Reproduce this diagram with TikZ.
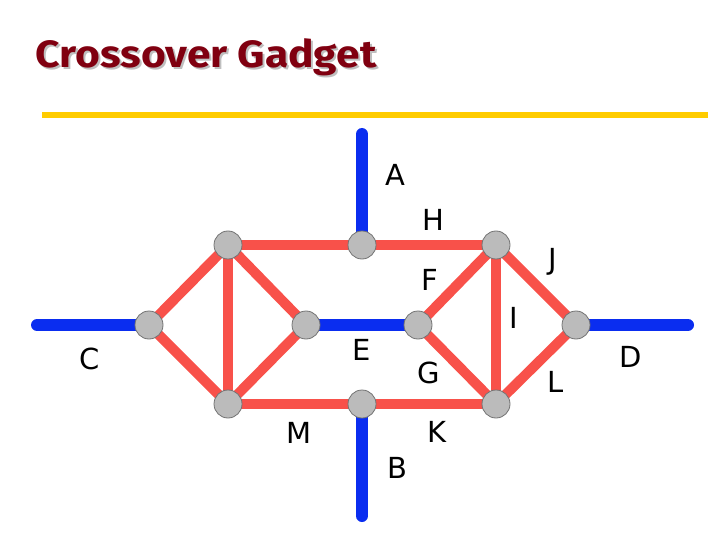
\documentclass[tikz,border=0pt]{standalone}
\usepackage{fontspec}
\setmainfont{DejaVu Sans}
\newfontfamily\titlefont{Fira Sans}
\usetikzlibrary{calc}
\definecolor{gadgetred}{HTML}{F8514A}
\definecolor{gadgetblue}{HTML}{0A2DF0}
\definecolor{vertexgray}{HTML}{BBBBBB}
\definecolor{titlered}{HTML}{800010}
\definecolor{rulegold}{HTML}{FFCC00}
\pgfdeclarelayer{background}
\pgfsetlayers{background,main}
\tikzset{%
  vertex/.style   = {circle, draw=black!55, line width=0.8pt,%
                     fill=vertexgray, inner sep=0pt, minimum size=28pt},%
  redge/.style    = {draw=gadgetred, line width=10pt},%
  bedge/.style    = {draw=gadgetblue, line width=12pt, line cap=round},%
  lbl/.style      = {font=\fontsize{29}{29}\selectfont, inner sep=0pt},%
  headline/.style = {font=\titlefont\bfseries\fontsize{38}{38}\selectfont,%
                     xscale=1.12, transform shape, inner sep=0pt}%
}
\begin{document}
\begin{tikzpicture}[x=1pt,y=-1pt]
	\useasboundingbox (0,0) rectangle (720,540);
	% title and rule
	\node (shadow) at (208,59) [headline, text=black!25] {Crossover Gadget};
	\node (title) at (206,57) [headline, text=titlered] {Crossover Gadget};
	\coordinate (ruleL) at (42,115);
	\coordinate (ruleR) at (708,115);
	\draw [rulegold, line width=6pt] (ruleL) -- (ruleR);
	% vertices
	\node [vertex] (tl) at (228,245) {};
	\node [vertex] (tm) at (362,245) {};
	\node [vertex] (tr) at (496,245) {};
	\node [vertex] (c)  at (149,325) {};
	\node [vertex] (ml) at (306,325) {};
	\node [vertex] (mr) at (418,325) {};
	\node [vertex] (d)  at (576,325) {};
	\node [vertex] (bl) at (228,404) {};
	\node [vertex] (bm) at (362,404) {};
	\node [vertex] (br) at (496,404) {};
	% free ends
	\coordinate (aEnd) at (362,134);
	\coordinate (bEnd) at (362,516);
	\coordinate (cEnd) at (37,325);
	\coordinate (dEnd) at (688,325);
	\begin{pgfonlayer}{background}
		\draw [redge] (tl.center) -- (tm.center) -- (tr.center);
		\draw [redge] (bl.center) -- (bm.center) -- (br.center);
		\draw [redge] (tl.center) -- (c.center) -- (bl.center);
		\draw [redge] (tl.center) -- (bl.center);
		\draw [redge] (tl.center) -- (ml.center) -- (bl.center);
		\draw [redge] (tr.center) -- (mr.center) -- (br.center);
		\draw [redge] (tr.center) -- (br.center);
		\draw [redge] (tr.center) -- (d.center) -- (br.center);
		\draw [bedge] (aEnd) -- (tm.center);
		\draw [bedge] (bm.center) -- (bEnd);
		\draw [bedge] (cEnd) -- (c.center);
		\draw [bedge] (d.center) -- (dEnd);
		\draw [draw=gadgetblue, line width=12pt] (ml.center) -- (mr.center);
	\end{pgfonlayer}
	% labels
	\node [lbl] (lA) at (395,175) {A};
	\node [lbl] (lB) at (397,468) {B};
	\node [lbl] (lC) at (90,359) {C};
	\node [lbl] (lD) at (631,357) {D};
	\node [lbl] (lE) at (362,350) {E};
	\node [lbl] (lF) at (430,280) {F};
	\node [lbl] (lG) at (429,373) {G};
	\node [lbl] (lH) at (433,220) {H};
	\node [lbl] (lI) at (514,318) {I};
	\node [lbl] (lJ) at (553,262) {J};
	\node [lbl] (lK) at (437,432) {K};
	\node [lbl] (lL) at (556,382) {L};
	\node [lbl] (lM) at (299,433) {M};
\end{tikzpicture}
\end{document}
